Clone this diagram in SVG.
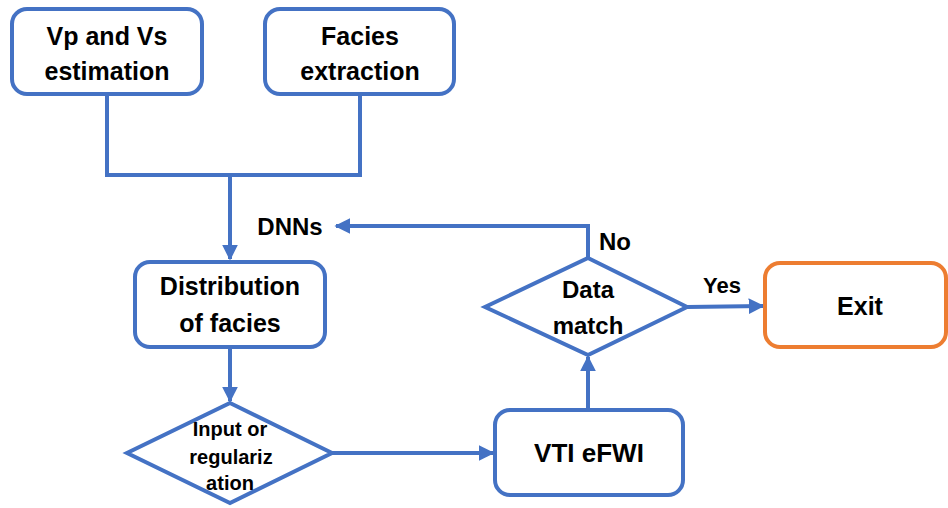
<svg xmlns="http://www.w3.org/2000/svg" width="948" height="508" viewBox="0 0 948 508">
<style>
.box{fill:#fff;stroke:#4472C4;stroke-width:4}
.exit{fill:#fff;stroke:#ED7D31;stroke-width:4}
.t{font-family:"Liberation Sans",Arial,sans-serif;font-weight:bold;fill:#000;text-anchor:middle}
.ln{fill:none;stroke:#4472C4;stroke-width:4}
</style>
<defs>
<marker id="ah" viewBox="0 0 10 10" refX="9" refY="5" markerWidth="4" markerHeight="4" orient="auto" markerUnits="strokeWidth">
<path d="M0,0 L10,5 L0,10 z" fill="#4472C4"/>
</marker>
</defs>
<g id="connectors">
<path class="ln" d="M107,94 V175 H360 V94"/>
<path class="ln" d="M230,175 V259" marker-end="url(#ah)"/>
<path class="ln" d="M588,258 V226 H336" marker-end="url(#ah)"/>
<path class="ln" d="M230,347 V401" marker-end="url(#ah)"/>
<path class="ln" d="M332,453 H493" marker-end="url(#ah)"/>
<path class="ln" d="M588,409 V357" marker-end="url(#ah)"/>
<path class="ln" d="M687,307 L763,306" marker-end="url(#ah)"/>
<text class="t" x="290" y="235" font-size="24">DNNs</text>
<text class="t" x="615" y="250" font-size="24">No</text>
<text class="t" x="722" y="293" font-size="22">Yes</text>
</g>
<g id="vpvs">
<rect class="box" x="12" y="9" width="190" height="85" rx="15"/>
<text class="t" x="107" y="45" font-size="25">Vp and Vs</text>
<text class="t" x="107" y="80" font-size="25">estimation</text>
</g>
<g id="facies">
<rect class="box" x="265" y="9" width="189" height="85" rx="15"/>
<text class="t" x="360" y="45" font-size="25">Facies</text>
<text class="t" x="360" y="80" font-size="25">extraction</text>
</g>
<g id="distribution">
<rect class="box" x="135" y="262" width="190" height="85" rx="15"/>
<text class="t" x="230" y="295" font-size="25">Distribution</text>
<text class="t" x="230" y="332" font-size="25">of facies</text>
</g>
<g id="input">
<polygon class="box" points="230,403 332,453 230,503 127,453"/>
<text class="t" x="230" y="436" font-size="20">Input or</text>
<text class="t" x="231" y="464" font-size="20">regulariz</text>
<text class="t" x="230" y="490" font-size="20">ation</text>
</g>
<g id="vti">
<rect class="box" x="495" y="410" width="188" height="85" rx="15"/>
<text class="t" x="589" y="462" font-size="26">VTI eFWI</text>
</g>
<g id="datamatch">
<polygon class="box" points="588,258 687,307 588,355 485,307"/>
<text class="t" x="588" y="298" font-size="24">Data</text>
<text class="t" x="588" y="334" font-size="24">match</text>
</g>
<g id="exit">
<rect class="exit" x="765" y="263" width="181" height="84" rx="15"/>
<text class="t" x="860" y="315" font-size="25">Exit</text>
</g>
</svg>
